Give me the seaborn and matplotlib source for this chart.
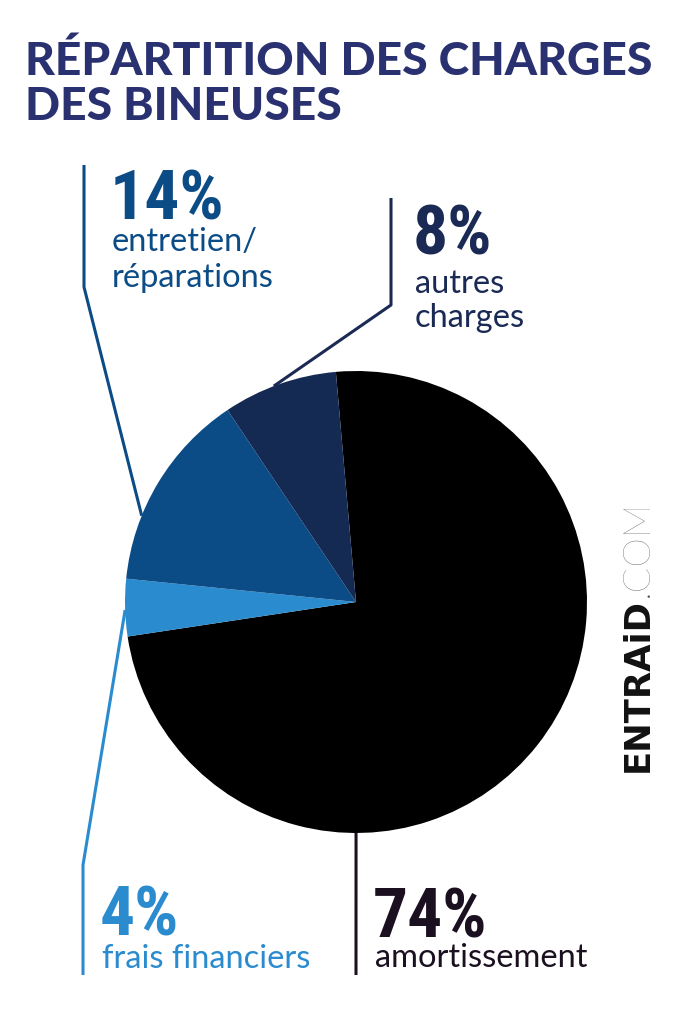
import matplotlib
matplotlib.use("Agg")
import numpy as np
import matplotlib.pyplot as plt
import seaborn as sns
from matplotlib import font_manager as fm

# --- données ---
labels = [["amortissement"], ["frais financiers"], ["entretien/", "réparations"], ["autres", "charges"]]
values = [74, 4, 14, 8]
pct_text = ["74%", "4%", "14%", "8%"]
slice_colors = ["#000000", "#2B8BCF", "#0C4C86", "#152A52"]
text_colors = ["#1B1020", "#2B8BCF", "#0C4C86", "#1B2A55"]
title_lines = ["RÉPARTITION DES CHARGES", "DES BINEUSES"]

sns.set_theme(style="white")
plt.rcParams["font.family"] = ["Lato", "DejaVu Sans"]

# police étroite pour les pourcentages
names = {f.name for f in fm.fontManager.ttflist}
narrow = None
for n in ["Liberation Sans Narrow", "Roboto Condensed", "Open Sans Condensed"]:
    if n in names:
        narrow = dict(family=[n, "DejaVu Sans"], fontweight="bold")
        break
if narrow is None:
    narrow = dict(family=["DejaVu Sans"], fontweight="bold", fontstretch="condensed")

fig = plt.figure(figsize=(7, 10.15), dpi=100)
fig.patch.set_facecolor("white")

# calque texte/lignes en pixels
ax2 = fig.add_axes([0, 0, 1, 1], zorder=0)
ax2.set_xlim(0, 700)
ax2.set_ylim(1015, 0)
ax2.axis("off")

# camembert
ax = fig.add_axes([125 / 700, 182 / 1015, 462 / 700, 462 / 1015], zorder=1)
ax.patch.set_alpha(0)
wedges, _ = ax.pie(values, colors=sns.color_palette(slice_colors), startangle=95,
                   counterclock=False, wedgeprops=dict(linewidth=0))
ax.set_xlim(-1, 1)
ax.set_ylim(-1, 1)

# --- titre ---
for line, yb in zip(title_lines, [75, 120]):
    ax2.text(25, yb, line, fontsize=33.2, fontweight="black", color="#2A3170", va="baseline")

# --- lignes de rappel ---
fig.canvas.draw()


def edge_point(w, frac):
    th = np.deg2rad(w.theta1 + frac * (w.theta2 - w.theta1))
    disp = ax.transData.transform((np.cos(th), np.sin(th)))
    return ax2.transData.inverted().transform(disp)


leaders = [
    ([(356, 975)], 0.3056),
    ([(83, 975), (83, 865)], 0.54),
    ([(84, 165), (84, 287)], 0.68),
    ([(391, 198), (391, 305)], 0.55),
]
for i, (pts, frac) in enumerate(leaders):
    e = edge_point(wedges[i], frac)
    xs = [p[0] for p in pts] + [e[0]]
    ys = [p[1] for p in pts] + [e[1]]
    ax2.plot(xs, ys, color=text_colors[i], lw=2.2, solid_capstyle="butt")

# --- étiquettes ---
lab_pos = [(373, 937, [967]), (100, 936, [968]), (110, 219, [251, 287]), (413, 254, [293, 327])]
for i, (x, yp, ys) in enumerate(lab_pos):
    ax2.text(x, yp, pct_text[i], fontsize=50, color=text_colors[i], va="baseline", **narrow)
    for line, yl in zip(labels[i], ys):
        ax2.text(x + 2, yl, line, fontsize=23.5, fontweight="normal", color=text_colors[i],
                 va="baseline")

# --- logo ---
t1 = ax2.text(648, 772, "ENTRAiD", fontsize=25.5, fontweight="bold", color="#111111",
              family=["DejaVu Sans"], rotation=90, rotation_mode="anchor",
              ha="left", va="baseline")
fig.canvas.draw()
bb = t1.get_window_extent().transformed(ax2.transData.inverted())
ytop = min(bb.y0, bb.y1)
ax2.text(648, ytop - 1, ".COM", fontsize=27, fontweight=200, color="#555555",
         rotation=90, rotation_mode="anchor", ha="left", va="baseline")

fig.savefig("out.png", dpi=100, facecolor="white")
